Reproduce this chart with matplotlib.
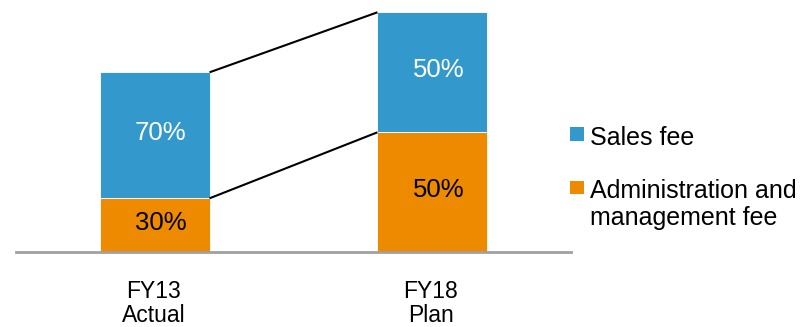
import matplotlib.pyplot as plt
import matplotlib.transforms as mtransforms
from matplotlib.patches import Rectangle

plt.rcParams['font.family'] = ['Liberation Sans', 'DejaVu Sans']

# category labels and bar totals (relative size of each year)
categories = ['FY13\nActual', 'FY18\nPlan']
totals = [75, 100]
# share of each fee type in the year's total, %
admin_share = [30, 50]
sales_share = [70, 50]

series_names = ['Sales fee', 'Administration and\nmanagement fee']
blue = '#3399cc'
orange = '#ee8a00'

W, H = 811, 327
fig = plt.figure(figsize=(W / 100, H / 100), dpi=100)
ax = fig.add_axes([16 / W, (H - 252.3) / H, 555 / W, 240 / H])


def px(xp, yp):
    return xp / W, (H - yp) / H


x = list(range(len(categories)))
admin = [t * s / 100 for t, s in zip(totals, admin_share)]
sales = [t * s / 100 for t, s in zip(totals, sales_share)]

bw = 0.395
ax.bar(x, admin, width=bw, color=orange, edgecolor='white', linewidth=0.6, zorder=2)
ax.bar(x, sales, width=bw, bottom=admin, color=blue, edgecolor='white', linewidth=0.6, zorder=2)

# connector lines between the two bars
ax.plot([x[0] + bw / 2, x[1] - bw / 2], [totals[0], totals[1]], color='black', lw=1.5,
        clip_on=False, solid_capstyle='butt')
ax.plot([x[0] + bw / 2, x[1] - bw / 2], [admin[0], admin[1]], color='black', lw=1.5,
        clip_on=False, solid_capstyle='butt')

# percentage labels
for i in x:
    ax.annotate(f'{admin_share[i]}%', (i + 0.022, admin[i] / 2), xytext=(0, 2),
                textcoords='offset points', ha='center', va='center',
                fontsize=18.5, color='black')
    ax.annotate(f'{sales_share[i]}%', (i + 0.022, admin[i] + sales[i] / 2), xytext=(0, 2),
                textcoords='offset points', ha='center', va='center',
                fontsize=18.5, color='white')

ax.set_xlim(-0.5, 1.5)
ax.set_ylim(0, 100)
for s in ['top', 'right', 'left']:
    ax.spines[s].set_visible(False)
ax.spines['bottom'].set_color('#a0a0a0')
ax.spines['bottom'].set_linewidth(2)
ax.set_yticks([])
ax.set_xticks([])

# two-line category labels under the axis
trans = mtransforms.blended_transform_factory(ax.transData, fig.transFigure)
for i, lab in enumerate(categories):
    for k, line in enumerate(lab.split('\n')):
        ax.text(i - 0.005, (H - (298.3 + 23.5 * k)) / H, line, transform=trans,
                ha='center', va='baseline', fontsize=16.5)

# legend drawn by hand
fig.add_artist(Rectangle(px(570, 140.7), 14 / W, 13.5 / H, transform=fig.transFigure,
                         color=blue, lw=0))
fig.text(*px(590.5, 145), series_names[0], fontsize=18, va='baseline', ha='left')
fig.add_artist(Rectangle(px(570, 194), 14 / W, 13.5 / H, transform=fig.transFigure,
                         color=orange, lw=0))
for k, line in enumerate(series_names[1].split('\n')):
    fig.text(*px(590.5, 198 + 27 * k), line, fontsize=18, va='baseline', ha='left')

fig.savefig('out.png', dpi=100)
